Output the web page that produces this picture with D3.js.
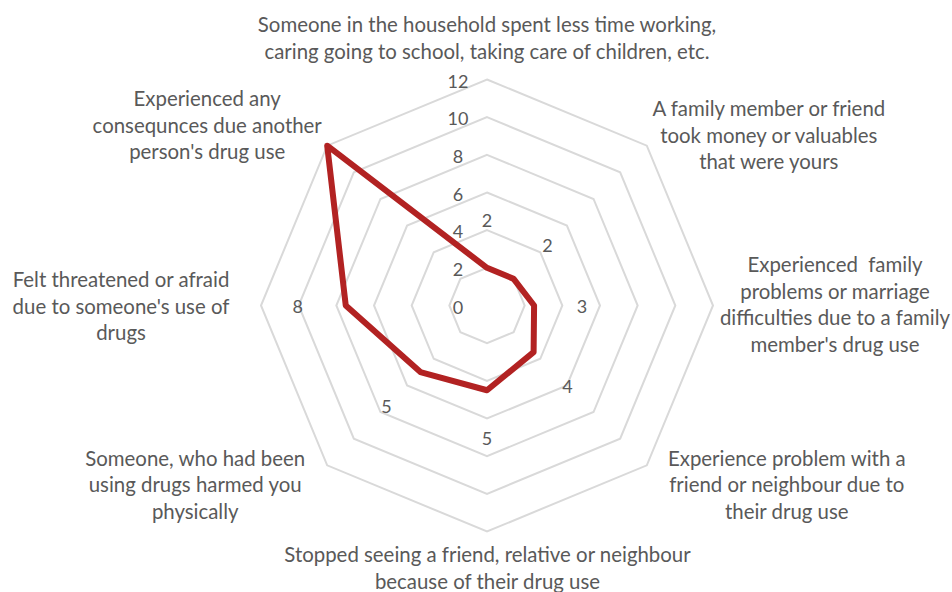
<!DOCTYPE html>
<html>
<head>
<meta charset="utf-8">
<script src="https://cdn.jsdelivr.net/npm/d3@7"></script>
<style>
  html, body { margin: 0; padding: 0; background: #ffffff; }
  svg { display: block; }
  text { font-family: Lato, "Open Sans", sans-serif; fill: #595959; white-space: pre; }
</style>
</head>
<body>
<svg id="chart" width="952" height="592"></svg>
<script>
// Consequences of another person's drug use — one series on eight axes
const categories = [
  ["Someone in the household spent less time working,", "caring going to school, taking care of children, etc."],
  ["A family member or friend", "took money or valuables", "that were yours"],
  ["Experienced  family", "problems or marriage", "difficulties due to a family", "member's drug use"],
  ["Experience problem with a", "friend or neighbour due to", "their drug use"],
  ["Stopped seeing a friend, relative or neighbour", "because of their drug use"],
  ["Someone, who had been", "using drugs harmed you", "physically"],
  ["Felt threatened or afraid", "due to someone's use of", "drugs"],
  ["Experienced any", "consequnces due another", "person's drug use"]
];
const values = [2, 2, 2.5, 3.5, 4.5, 5, 7.5, 12];
const showValueLabel = [true, true, true, true, true, true, true, false];
const ticks = [0, 2, 4, 6, 8, 10, 12];

// Layout
const width = 952, height = 592;
const cx = 487, cy = 305.5, outerR = 226;
const lineHeight = 26.7;
const labelFont = 20.4;
// centre of each category text block, relative to the outer ring vertex on its axis
const labelOffsets = [[0, -42], [122, -11], [122, -1.5], [140, 19], [0.5, 36], [-132, 19], [-140, 0], [-120, -21]];

const svg = d3.select("#chart");
const g = svg.append("g").attr("transform", `translate(${cx},${cy})`);

const r = d3.scaleLinear().domain([0, 12]).range([0, outerR]);
const angle = d3.scaleLinear().domain([0, categories.length]).range([0, 2 * Math.PI]);

const pt = (i, v) => [Math.sin(angle(i)) * r(v), -Math.cos(angle(i)) * r(v)];

// Octagonal grid rings
const ringLine = d3.line().curve(d3.curveLinearClosed);
g.selectAll("path.ring")
  .data(ticks.filter(t => t > 0))
  .join("path")
  .attr("class", "ring")
  .attr("d", t => ringLine(categories.map((_, i) => pt(i, t))))
  .attr("fill", "none")
  .attr("stroke", "#d9d9d9")
  .attr("stroke-width", 2);

// Radial tick labels
g.selectAll("text.tick")
  .data(ticks)
  .join("text")
  .attr("class", "tick")
  .attr("x", -29)
  .attr("y", t => -r(t) + 1)
  .attr("text-anchor", "middle")
  .attr("dominant-baseline", "central")
  .attr("font-size", 18)
  .text(t => t);

// Data series
g.append("path")
  .attr("d", ringLine(values.map((v, i) => pt(i, v))))
  .attr("fill", "none")
  .attr("stroke", "#b22222")
  .attr("stroke-width", 6)
  .attr("stroke-linejoin", "round");

// Value labels, rounded to whole numbers
const fmt = d3.format(".0f");
g.selectAll("text.value")
  .data(values.map((v, i) => ({ v, i })).filter(d => showValueLabel[d.i]))
  .join("text")
  .attr("class", "value")
  .attr("x", d => Math.sin(angle(d.i)) * (r(d.v) + 48))
  .attr("y", d => -Math.cos(angle(d.i)) * (r(d.v) + 48))
  .attr("text-anchor", "middle")
  .attr("dominant-baseline", "central")
  .attr("font-size", 18)
  .attr("fill", "#404040")
  .text(d => fmt(d.v));

// Category labels
categories.forEach((lines, i) => {
  const [vx, vy] = pt(i, 12);
  const bx = vx + labelOffsets[i][0];
  const by = vy + labelOffsets[i][1];
  const t = g.append("text")
    .attr("class", "category")
    .attr("text-anchor", "middle")
    .attr("font-size", labelFont);
  lines.forEach((line, k) => {
    t.append("tspan")
      .attr("x", bx)
      .attr("y", by + (k - (lines.length - 1) / 2) * lineHeight)
      .attr("dominant-baseline", "central")
      .text(line);
  });
});
</script>
</body>
</html>
